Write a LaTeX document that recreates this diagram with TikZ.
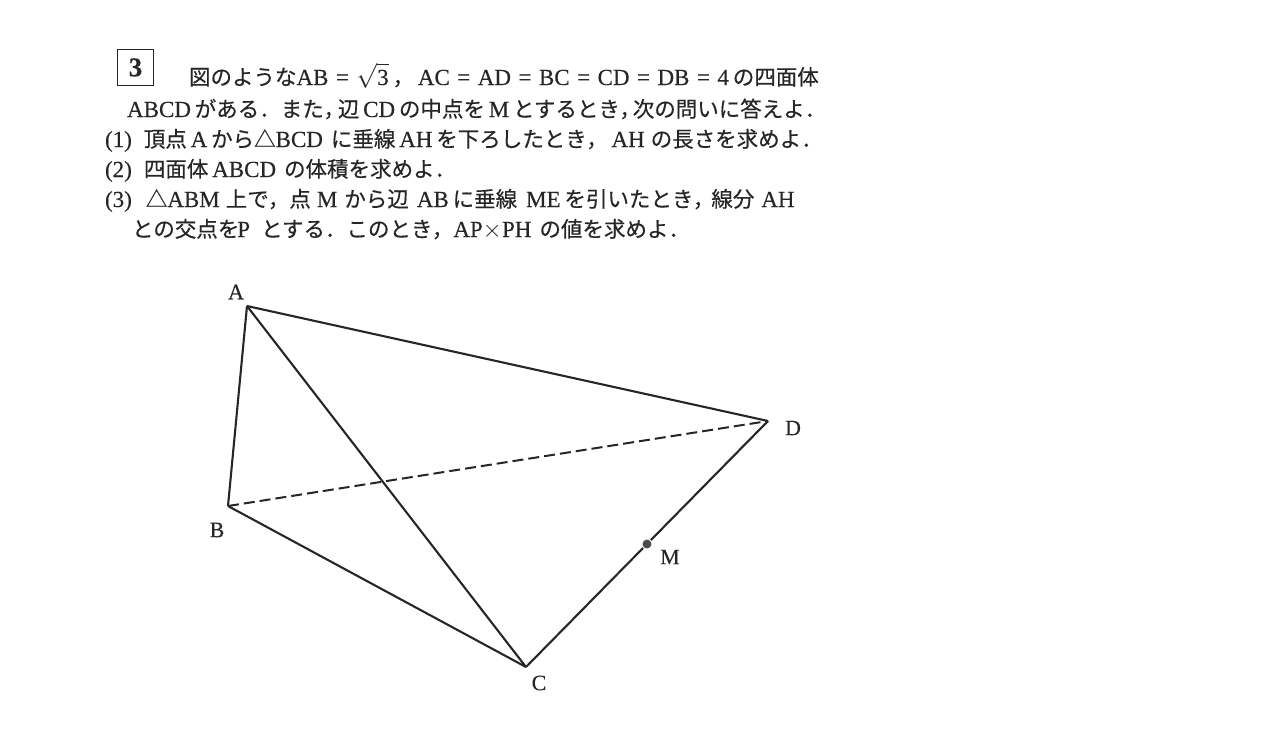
\documentclass[tikz,border=0pt]{standalone}
\usepackage{amsmath}
\usepackage{fontspec}
\setmainfont[FakeBold=0.25]{Liberation Serif}
\newfontfamily\jpfont[FakeBold=0.4]{Noto Sans CJK JP}
\newcommand{\jp}[1]{{\jpfont\fontsize{21.5}{24}\selectfont #1}}
\newcommand{\eqs}{\hspace{7.5pt}=\hspace{7.5pt}}
\newcommand{\gap}[1]{\hspace{#1pt}}
\begin{document}
\begin{tikzpicture}[x=1pt,y=-1pt,line width=2.1pt,draw=black!85]
    \tikzstyle{line text}=[anchor=base west,inner sep=0pt,text=black!85,font=\fontsize{23}{24}\selectfont]
    \tikzstyle{vertex label}=[inner sep=0pt,text=black!85,font=\fontsize{22}{24}\selectfont]
    \tikzstyle{hidden edge}=[dash pattern=on 11pt off 5pt,line width=2pt]

    \useasboundingbox (0,0) rectangle (1282,734);

    % Problem number and the text
    \node[draw,line width=1.5pt,inner sep=0pt,minimum size=36pt,text=black!85,font=\bfseries\fontsize{27}{28}\selectfont] (N) at (135.5,67.5) {3};
    \node[line text] (L-1) at (188,85) {\jp{図のような}AB\eqs$\sqrt{\text{3}}$\,\jp{，}\,AC\eqs AD\eqs BC\eqs CD\eqs DB\eqs 4\,\jp{の四面体}};
    \node[line text] (L-2) at (126,117) {ABCD\,\jp{がある．また，\gap{-7}辺}\,CD\,\jp{の中点を}\,M\,\jp{とするとき，\gap{-8}次の問いに答えよ．}};
    \node[line text] (L-3) at (104,147) {(1)\gap{12}\jp{頂点}\,A\,\jp{から△}BCD\gap{8}\jp{に垂線}\,AH\,\jp{を下ろしたとき，}\,AH\gap{6}\jp{の長さを求めよ．}};
    \node[line text] (L-4) at (104,177) {(2)\gap{12}\jp{四面体}\,ABCD\gap{8}\jp{の体積を求めよ．}};
    \node[line text] (L-5) at (104,207) {(3)\gap{14}\jp{△}ABM\gap{6}\jp{上で，点}\gap{6}M\gap{7}\jp{から辺}\gap{8}AB\,\jp{に垂線}\gap{9}ME\,\jp{を引いたとき，\gap{-3}線分}\gap{7}AH};
    \node[line text] (L-6) at (131,237) {\jp{との交点を}\gap{-2}P\gap{11}\jp{とする．このとき，}AP$\times$PH\gap{8}\jp{の値を求めよ．}};

    % Draw the vertices
    \coordinate (A) at (247,306);
    \coordinate (B) at (228,506);
    \coordinate (C) at (526,667);
    \coordinate (D) at (768,421);
    \node[circle,fill=black!70,inner sep=0pt,minimum size=9pt] (M) at (647,544) {};

    \node[vertex label] (A-label) at (236,292) {A};
    \node[vertex label] (B-label) at (217,530) {B};
    \node[vertex label] (C-label) at (539,683) {C};
    \node[vertex label] (D-label) at (793,428) {D};
    \node[vertex label] (M-label) at (670,557) {M};

    % Draw the edges
    \draw (A) -- (B);
    \draw (A) -- (C);
    \draw (A) -- (D);
    \draw (B) -- (C);
    \draw (C) -- (M);
    \draw (M) -- (D);
    \draw[hidden edge] (B) -- (D);
\end{tikzpicture}
\end{document}
